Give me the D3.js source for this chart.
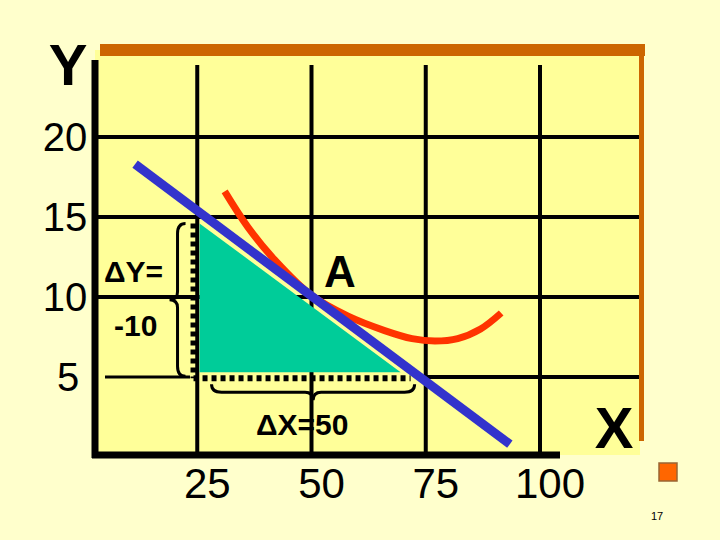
<!DOCTYPE html>
<meta charset="utf-8">
<style>
body { margin: 0; background: #FFFFCC; }
text { font-family: Arial, "Liberation Sans", sans-serif; }
</style>
<script src="https://d3js.org/d3.v7.min.js"></script>
<div id="chart"></div>
<script>
// tick values
var xTicks = [25, 50, 75, 100];
var yTicks = [5, 10, 15, 20];
// budget line (blue) endpoints
var lineX = [11.4, 93.4];
var lineY = [18.3, 0.8];
// indifference curve A (red)
var curveX = [31, 36, 42, 50, 58, 66, 72, 77, 82, 87, 91.5];
var curveY = [16.6, 14.4, 12.3, 10.1, 8.8, 7.9, 7.4, 7.25, 7.4, 8.0, 9.0];
// triangle: from (25,15) down to (25,5) over to (69.5,5)
var triX = [25.5, 25.5, 69.5];
var triY = [14.6, 5.3, 5.3];

var width = 720, height = 540;
var svg = d3.select("#chart").append("svg")
    .attr("width", width).attr("height", height);

var x = d3.scaleLinear().domain([0, 100]).range([83, 540]);
var y = d3.scaleLinear().domain([0, 20]).range([457, 137]);

var pLeft = 95, pRight = 640, pTop = 50, pBottom = 455;

// plot background
svg.append("rect").attr("x", pLeft).attr("y", pTop)
    .attr("width", pRight - pLeft).attr("height", pBottom - pTop)
    .attr("fill", "#FFFF99");

// grid
svg.selectAll(".vg").data(xTicks).enter().append("line")
    .attr("x1", d => x(d)).attr("x2", d => x(d))
    .attr("y1", pTop + 15).attr("y2", pBottom)
    .attr("stroke", "#000").attr("stroke-width", 4);
svg.selectAll(".hg").data(yTicks.filter(d => d > 5)).enter().append("line")
    .attr("x1", pLeft).attr("x2", pRight)
    .attr("y1", d => y(d)).attr("y2", d => y(d))
    .attr("stroke", "#000").attr("stroke-width", 4);
svg.append("line").attr("x1", 105).attr("x2", 190)
    .attr("y1", y(5)).attr("y2", y(5))
    .attr("stroke", "#000").attr("stroke-width", 3);
svg.append("line").attr("x1", 415).attr("x2", pRight)
    .attr("y1", y(5)).attr("y2", y(5))
    .attr("stroke", "#000").attr("stroke-width", 4);

// borders
svg.append("rect").attr("x", 100).attr("y", 44).attr("width", 545).attr("height", 12).attr("fill", "#CC6600");
svg.append("rect").attr("x", 639).attr("y", 56).attr("width", 5).attr("height", 385).attr("fill", "#CC6600");
svg.append("line").attr("x1", pLeft).attr("x2", pLeft).attr("y1", 60).attr("y2", pBottom + 3)
    .attr("stroke", "#000").attr("stroke-width", 7);
svg.append("line").attr("x1", pLeft - 3).attr("x2", 560).attr("y1", pBottom).attr("y2", pBottom)
    .attr("stroke", "#000").attr("stroke-width", 7);

// triangle
svg.append("path")
    .attr("d", d3.line()(triX.map((d, i) => [x(d), y(triY[i])])) + "Z")
    .attr("fill", "#00CC99");
// dotted sides
svg.append("line").attr("x1", x(triX[0]) - 6).attr("x2", x(triX[0]) - 6)
    .attr("y1", y(triY[0])).attr("y2", y(triY[1]) + 6)
    .attr("stroke", "#000").attr("stroke-width", 6).attr("stroke-dasharray", "5,4");
svg.append("line").attr("x1", x(triX[0]) - 6).attr("x2", x(triX[2]) + 10)
    .attr("y1", y(triY[1]) + 6).attr("y2", y(triY[1]) + 6)
    .attr("stroke", "#000").attr("stroke-width", 6).attr("stroke-dasharray", "5,4");

// braces
var bx = x(triX[0]) - 14, by0 = y(triY[0]), by1 = y(triY[1]) + 4, bm = (by0 + by1) / 2;
svg.append("path")
    .attr("d", `M${bx},${by0} Q${bx - 8},${by0} ${bx - 8},${by0 + 10} L${bx - 8},${bm - 8} Q${bx - 8},${bm} ${bx - 16},${bm} Q${bx - 8},${bm} ${bx - 8},${bm + 8} L${bx - 8},${by1 - 10} Q${bx - 8},${by1} ${bx},${by1}`)
    .attr("fill", "none").attr("stroke", "#000").attr("stroke-width", 3);
var cy = y(triY[1]) + 12, cx0 = x(triX[0]) + 12, cx1 = x(triX[2]) + 14, cm = (cx0 + cx1) / 2;
svg.append("path")
    .attr("d", `M${cx0},${cy} Q${cx0},${cy + 8} ${cx0 + 10},${cy + 8} L${cm - 8},${cy + 8} Q${cm},${cy + 8} ${cm},${cy + 16} Q${cm},${cy + 8} ${cm + 8},${cy + 8} L${cx1 - 10},${cy + 8} Q${cx1},${cy + 8} ${cx1},${cy}`)
    .attr("fill", "none").attr("stroke", "#000").attr("stroke-width", 3);

// red curve
svg.append("path")
    .datum(curveX.map((d, i) => [x(d), y(curveY[i])]))
    .attr("d", d3.line().curve(d3.curveCatmullRom))
    .attr("fill", "none").attr("stroke", "#FF3300").attr("stroke-width", 7);

// blue line
svg.append("line")
    .attr("x1", x(lineX[0])).attr("y1", y(lineY[0]))
    .attr("x2", x(lineX[1])).attr("y2", y(lineY[1]))
    .attr("stroke", "#3333CC").attr("stroke-width", 9);

// tick labels
svg.selectAll(".yl").data(yTicks).enter().append("text")
    .attr("x", d => d === 5 ? 68 : 65).attr("y", d => y(d) + 14)
    .attr("text-anchor", "middle").attr("font-size", 40).text(d => d);
svg.selectAll(".xl").data(xTicks).enter().append("text")
    .attr("x", d => x(d) + 10).attr("y", 498)
    .attr("text-anchor", "middle").attr("font-size", 42).text(d => d);

// labels
svg.append("text").attr("x", 68).attr("y", 85).attr("text-anchor", "middle").attr("font-size", 58).attr("font-weight", "bold").text("Y");
svg.append("text").attr("x", 614).attr("y", 448).attr("text-anchor", "middle").attr("font-size", 58).attr("font-weight", "bold").text("X");
svg.append("text").attr("x", 340).attr("y", 287).attr("text-anchor", "middle").attr("font-size", 44).attr("font-weight", "bold").text("A");
svg.append("text").attr("x", 104).attr("y", 282).attr("font-size", 30).attr("font-weight", "bold").text("ΔY=");
svg.append("text").attr("x", 114).attr("y", 336).attr("font-size", 30).attr("font-weight", "bold").text("-10");
svg.append("text").attr("x", 256).attr("y", 435).attr("font-size", 30).attr("font-weight", "bold").text("ΔX=50");

// slide decorations
svg.append("rect").attr("x", 659).attr("y", 463).attr("width", 18).attr("height", 18)
    .attr("fill", "#FF6600").attr("stroke", "#996633").attr("stroke-width", 1.5);
svg.append("text").attr("x", 651).attr("y", 520).attr("font-size", 11).text("17");
</script>
